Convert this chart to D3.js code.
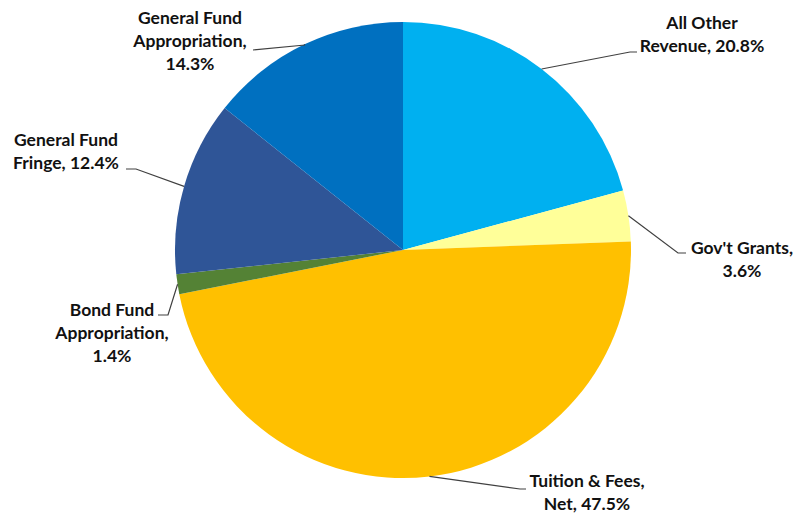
<!DOCTYPE html>
<html>
<head>
<meta charset="utf-8">
<script src="https://cdn.jsdelivr.net/npm/d3@7"></script>
<style>
  body { margin: 0; background: #fff; }
  svg text { font-family: Lato, "Open Sans", sans-serif; font-weight: bold; font-size: 17.5px; fill: #111; }
</style>
</head>
<body>
<div id="container"></div>
<script>
// slices, clockwise from 12 o'clock
const categories = ["All Other Revenue", "Gov't Grants", "Tuition & Fees, Net", "Bond Fund Appropriation", "General Fund Fringe", "General Fund Appropriation"];
const values = [20.8, 3.6, 47.5, 1.4, 12.4, 14.3];
const colors = ["#00b0f0", "#ffff99", "#ffc000", "#548235", "#2f5597", "#0070c0"];
// label text, one entry per line
const labelLines = [
    ["All Other", "Revenue, 20.8%"],
    ["Gov't Grants,", "3.6%"],
    ["Tuition & Fees,", "Net, 47.5%"],
    ["Bond Fund", "Appropriation,", "1.4%"],
    ["General Fund", "Fringe, 12.4%"],
    ["General Fund", "Appropriation,", "14.3%"]
];

const width = 795;
const height = 515;
const cx = 403, cy = 250, radius = 228;
const lineH = 23;

// where each label sits: elbow of leader, end of leader, text centre x, first baseline
const labelPos = [
    { elbow: [630, 52], end: [637, 52], tx: 702, ty: 29 },
    { elbow: [678, 253], end: [686, 253], tx: 742, ty: 254 },
    { elbow: [520, 489], end: [526, 489], tx: 587, ty: 487 },
    { elbow: [168, 315], end: [158, 315], tx: 112, ty: 316 },
    { elbow: [136, 169], end: [126, 169], tx: 66, ty: 146 },
    { elbow: [305, 45], end: [253, 50], tx: 190, ty: 24 }
];

const svg = d3.select("#container").append("svg")
    .attr("width", width)
    .attr("height", height);

const pie = d3.pie().sort(null).value(function (d) { return d; });
const arcs = pie(values);

const arc = d3.arc().innerRadius(0).outerRadius(radius);
const edge = d3.arc().innerRadius(radius).outerRadius(radius);

const g = svg.append("g").attr("transform", "translate(" + cx + "," + cy + ")");

g.selectAll("path.slice")
    .data(arcs)
    .enter()
    .append("path")
    .attr("class", "slice")
    .attr("d", arc)
    .attr("fill", function (d, i) { return colors[i]; });

// leader lines
svg.selectAll("polyline.leader")
    .data(arcs)
    .enter()
    .append("polyline")
    .attr("class", "leader")
    .attr("fill", "none")
    .attr("stroke", "#404040")
    .attr("stroke-width", 1.2)
    .attr("points", function (d, i) {
        const c = edge.centroid(d);
        const p = labelPos[i];
        return [[c[0] + cx, c[1] + cy], p.elbow, p.end].map(function (q) { return q.join(","); }).join(" ");
    });

// labels
const labels = svg.selectAll("text.label")
    .data(labelLines)
    .enter()
    .append("text")
    .attr("class", "label")
    .attr("text-anchor", "middle")
    .attr("x", function (d, i) { return labelPos[i].tx; })
    .attr("y", function (d, i) { return labelPos[i].ty; });

labels.selectAll("tspan")
    .data(function (d, i) { return d.map(function (t) { return { t: t, i: i }; }); })
    .enter()
    .append("tspan")
    .attr("x", function (d) { return labelPos[d.i].tx; })
    .attr("dy", function (d, j) { return j === 0 ? 0 : lineH; })
    .text(function (d) { return d.t; });
</script>
</body>
</html>
